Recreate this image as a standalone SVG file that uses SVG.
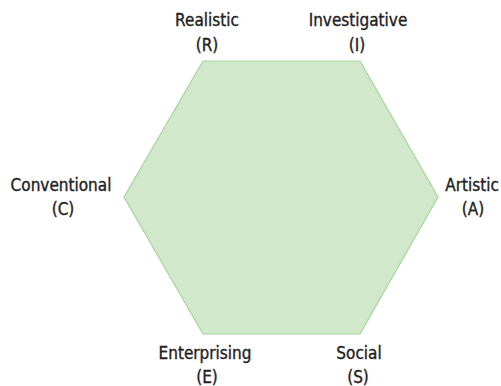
<svg xmlns="http://www.w3.org/2000/svg" width="501" height="386" viewBox="0 0 501 386">
  <style>
    .hex { fill: #d1e8ca; stroke: #a6d49c; stroke-width: 1.2; }
    .lbl { font-family: "DejaVu Sans Condensed", "DejaVu Sans", sans-serif; font-stretch: condensed; font-size: 17px; fill: #222; stroke: #222; stroke-width: 0.35; text-anchor: middle; }
  </style>
  <rect width="501" height="386" fill="#ffffff"/>
  <g id="hexagon">
    <polygon class="hex" points="203,61 360,61 438,197 360,334 203,334 124,197"/>
  </g>
  <g id="connectors"></g>
  <g id="realistic">
    <text class="lbl" x="207" y="26">Realistic</text>
    <text class="lbl" x="207" y="51">(R)</text>
  </g>
  <g id="investigative">
    <text class="lbl" x="358" y="26">Investigative</text>
    <text class="lbl" x="357" y="51">(I)</text>
  </g>
  <g id="artistic">
    <text class="lbl" x="472" y="191">Artistic</text>
    <text class="lbl" x="473" y="215">(A)</text>
  </g>
  <g id="social">
    <text class="lbl" x="359" y="359">Social</text>
    <text class="lbl" x="358" y="383">(S)</text>
  </g>
  <g id="enterprising">
    <text class="lbl" x="205" y="359">Enterprising</text>
    <text class="lbl" x="207" y="383">(E)</text>
  </g>
  <g id="conventional">
    <text class="lbl" x="61" y="191">Conventional</text>
    <text class="lbl" x="63" y="215">(C)</text>
  </g>
</svg>
